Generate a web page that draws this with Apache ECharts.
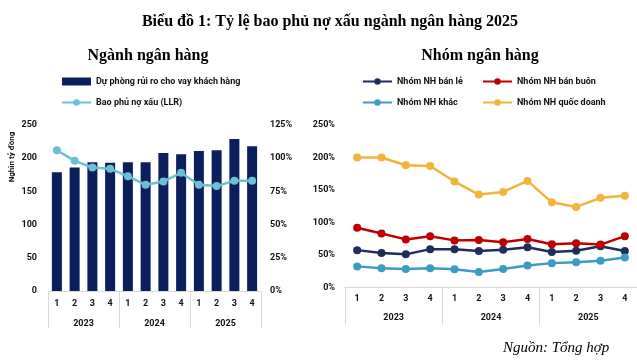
<!DOCTYPE html>
<html><head><meta charset="utf-8">
<script src="https://cdn.jsdelivr.net/npm/echarts@6/dist/echarts.min.js"></script>
<style>html,body{margin:0;padding:0;background:#fff}#c{width:637px;height:360px}</style>
</head><body><div id="c"></div>
<script>
var quarters = ['1','2','3','4','1','2','3','4','1','2','3','4'];
var years = ['2023','2024','2025'];
var provisions = [179, 186, 194, 193, 194, 194, 208, 206, 211, 212, 229, 218];
var llr = [106, 98, 93, 92, 86.5, 80, 82.5, 89, 80, 79, 83, 83];
var banLe = [57.5, 53, 51, 59, 59, 56, 58, 62, 54.5, 56.5, 63.5, 56];
var banBuon = [92, 83, 74, 79, 72.5, 73, 69.5, 74.5, 66.5, 68, 66, 79];
var khac = [32.5, 29.5, 28.5, 29.5, 28, 24, 28.5, 34, 37.5, 39, 41, 46];
var quocDoanh = [200, 200, 188, 187, 163, 143, 147, 164, 131, 124, 138, 141];
var leftTicks = [0, 50, 100, 150, 200, 250];
var rightTicksPct = [0, 25, 50, 75, 100, 125];
var groupTicksPct = [0, 50, 100, 150, 200, 250];

var F = "'Liberation Sans Narrow', 'Arial Narrow', Roboto, sans-serif";
var lab = {fontFamily: F, fontWeight: 'bold', fontSize: 9, color: '#111'};
var gray = '#d9d9d9';
var chart = echarts.init(document.getElementById('c'), null, {renderer: 'canvas'});

function qAxis(g, margin) {
  return {type: 'category', gridIndex: g, data: quarters, boundaryGap: true,
    axisLine: {show: true, lineStyle: {color: gray, width: 1}}, axisTick: {show: false},
    axisLabel: Object.assign({margin: margin, interval: 0}, lab)};
}
function yAxisCat(g, len, margin) {
  return {type: 'category', gridIndex: g, data: years, position: 'bottom', boundaryGap: true,
    axisLine: {show: false},
    axisTick: {show: true, interval: 0, length: len, lineStyle: {color: gray, width: 1}},
    axisLabel: Object.assign({margin: margin, interval: 0}, lab)};
}
var legText = {fontFamily: F, fontWeight: 'bold', fontSize: 9, color: '#111'};
var serifB = {fontFamily: 'Liberation Serif', fontWeight: 'bold', fontSize: 16, color: '#000'};

var option = {
  animation: false,
  backgroundColor: '#fff',
  title: [
    {text: 'Biểu đồ 1: Tỷ lệ bao phủ nợ xấu ngành ngân hàng 2025', left: 325, top: 9, textAlign: 'center', textStyle: serifB},
    {text: 'Ngành ngân hàng', left: 143, top: 43, textAlign: 'center', textStyle: serifB},
    {text: 'Nhóm ngân hàng', left: 475, top: 43, textAlign: 'center', textStyle: serifB},
    {text: 'Nguồn: Tổng hợp', left: 498, top: 336,
      textStyle: {fontFamily: 'Liberation Serif', fontStyle: 'italic', fontWeight: 'normal', fontSize: 15, color: '#000'}}
  ],
  legend: [
    {left: 61, top: 77, padding: 0, orient: 'vertical', itemWidth: 29, itemHeight: 8, itemGap: 12, textStyle: legText,
      data: [{name: 'Dự phòng rủi ro cho vay khách hàng', icon: 'rect'}, {name: 'Bao phủ nợ xấu (LLR)'}]},
    {left: 362, top: 77, padding: 0, orient: 'vertical', itemWidth: 29, itemHeight: 8, itemGap: 12, textStyle: legText,
      data: ['Nhóm NH bán lẻ', 'Nhóm NH khác']},
    {left: 482, top: 77, padding: 0, orient: 'vertical', itemWidth: 29, itemHeight: 8, itemGap: 12, textStyle: legText,
      data: ['Nhóm NH bán buôn', 'Nhóm NH quốc doanh']}
  ],
  grid: [
    {left: 48, width: 213, top: 125, height: 166},
    {left: 345, width: 293, top: 125, height: 162.5}
  ],
  xAxis: [qAxis(0, 8), yAxisCat(0, 37, 28), qAxis(1, 7), yAxisCat(1, 37, 26)],
  yAxis: [
    {type: 'value', gridIndex: 0, min: leftTicks[0], max: leftTicks[leftTicks.length-1], interval: 50,
      splitLine: {show: false}, axisLine: {show: false}, axisTick: {show: false},
      axisLabel: Object.assign({margin: 11}, lab)},
    {type: 'value', gridIndex: 0, position: 'right', min: rightTicksPct[0], max: rightTicksPct[rightTicksPct.length-1], interval: 25,
      splitLine: {show: false}, axisLine: {show: false}, axisTick: {show: false},
      axisLabel: Object.assign({margin: 9, formatter: '{value}%'}, lab)},
    {type: 'value', gridIndex: 1, min: groupTicksPct[0], max: groupTicksPct[groupTicksPct.length-1], interval: 50,
      splitLine: {show: false}, axisLine: {show: false}, axisTick: {show: false},
      axisLabel: Object.assign({margin: 10, formatter: '{value}%'}, lab)}
  ],
  graphic: [
    {type: 'text', x: 12, y: 157, rotation: Math.PI/2,
      style: {text: 'Nghìn tỷ đồng', fontFamily: F, fontWeight: 'bold', fontSize: 8, fill: '#111', textAlign: 'center', textVerticalAlign: 'middle'}}
  ],
  series: [
    {name: 'Dự phòng rủi ro cho vay khách hàng', type: 'bar', xAxisIndex: 0, yAxisIndex: 0, data: provisions,
      barWidth: 10, itemStyle: {color: '#0b1f5c'}},
    {name: 'Bao phủ nợ xấu (LLR)', type: 'line', xAxisIndex: 0, yAxisIndex: 1, data: llr,
      symbol: 'circle', symbolSize: 8, lineStyle: {color: '#6cc0d4', width: 2.5}, itemStyle: {color: '#6cc0d4'}},
    {name: 'Nhóm NH bán lẻ', type: 'line', xAxisIndex: 2, yAxisIndex: 2, data: banLe,
      symbol: 'circle', symbolSize: 8, lineStyle: {color: '#1f2d5c', width: 2.5}, itemStyle: {color: '#1f2d5c'}},
    {name: 'Nhóm NH bán buôn', type: 'line', xAxisIndex: 2, yAxisIndex: 2, data: banBuon,
      symbol: 'circle', symbolSize: 8, lineStyle: {color: '#c00000', width: 2.5}, itemStyle: {color: '#c00000'}},
    {name: 'Nhóm NH khác', type: 'line', xAxisIndex: 2, yAxisIndex: 2, data: khac,
      symbol: 'circle', symbolSize: 8, lineStyle: {color: '#399cc0', width: 2.5}, itemStyle: {color: '#399cc0'}},
    {name: 'Nhóm NH quốc doanh', type: 'line', xAxisIndex: 2, yAxisIndex: 2, data: quocDoanh,
      symbol: 'circle', symbolSize: 8, lineStyle: {color: '#f0b43a', width: 2.5}, itemStyle: {color: '#f0b43a'}}
  ]
};
chart.setOption(option);
</script></body></html>
